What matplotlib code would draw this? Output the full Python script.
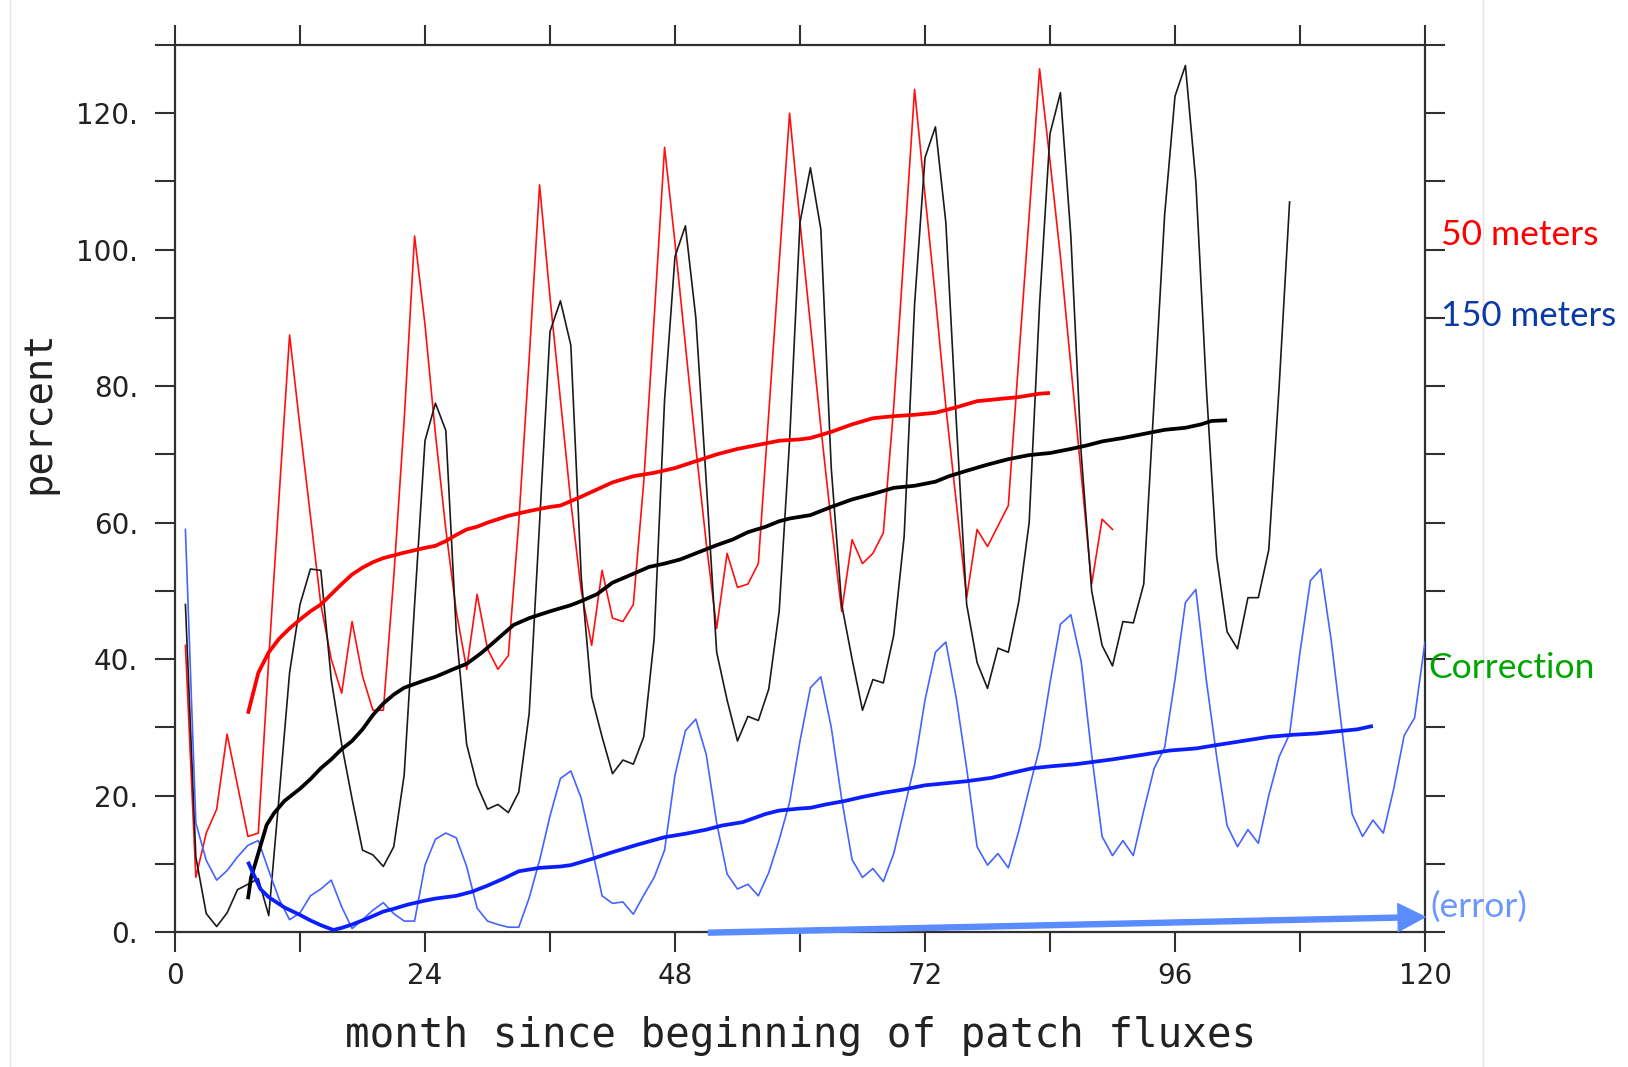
import matplotlib
matplotlib.use("Agg")
import matplotlib.pyplot as plt
from matplotlib import font_manager as fm
from matplotlib.patches import FancyArrowPatch, ArrowStyle
from matplotlib.lines import Line2D
import numpy as np

# ---------------- data ----------------
red_thin = [42, 8, 14.5, 18, 29, 21.5, 14, 14.5, 40, 64,
            87.5, 74, 61, 48, 40, 35, 45.5, 37.5, 32.5, 32.5,
            52, 75, 102, 89, 73, 59, 47, 38.5, 49.5, 41.5,
            38.5, 40.5, 60, 84, 109.5, 93, 78, 63, 50, 42,
            53, 46, 45.5, 48, 66, 90, 115, 101, 86, 71,
            57, 44.5, 55.5, 50.5, 51, 54, 76, 98, 120, 104,
            89, 74, 60, 47, 57.5, 54, 55.5, 58.5, 77, 100,
            123.5, 108, 93, 77, 63, 49, 59, 56.5, 59.5, 62.5,
            84, 105, 126.5, 113, 99, 83, 67, 51, 60.5, 59]

black_thin = [48, 11, 2.7, 0.8, 2.8, 6.2, 7, 7.8, 2.4, 20,
              38, 48, 53.2, 53, 37, 27.5, 19.5, 12, 11.3, 9.6,
              12.5, 23, 48, 72, 77.5, 73.5, 44, 27.5, 21.5, 18,
              18.7, 17.5, 20.5, 32, 60, 88, 92.5, 86, 52, 34.5,
              28.6, 23.2, 25.2, 24.6, 28.6, 43, 78, 99, 103.5, 90,
              66, 41, 34, 28, 31.6, 31, 35.6, 47, 72, 104,
              112, 103, 68, 48, 40, 32.5, 37, 36.5, 43.5, 58,
              92, 113.5, 118, 104, 75, 48, 39.5, 35.7, 41.6, 41,
              48.4, 60, 92, 117, 123, 102, 70, 50, 42, 39,
              45.5, 45.3, 51, 78, 105, 122.5, 127, 110, 80, 55,
              44, 41.5, 49, 49, 56, 80, 107]

blue_thin = [59, 16, 10.5, 7.6, 9, 11, 12.7, 13.4, 9, 4.8,
             1.8, 2.8, 5.3, 6.3, 7.6, 3.7, 0.5, 1.8, 3.2, 4.3,
             2.7, 1.6, 1.6, 9.8, 13.6, 14.5, 13.8, 9.6, 3.5, 1.6,
             1.1, 0.7, 0.7, 5, 10.5, 17, 22.5, 23.6, 19.6, 12.5,
             5.3, 4.2, 4.4, 2.6, 5.4, 8, 12, 23, 29.5, 31.2,
             26, 16, 8.5, 6.3, 7, 5.3, 8.7, 13.5, 19, 28,
             35.8, 37.4, 30, 19.5, 10.6, 8, 9.3, 7.4, 11.5, 18,
             24.5, 34, 41, 42.5, 34.3, 24, 12.5, 9.8, 11.5, 9.4,
             14.8, 21, 27, 36.5, 45.1, 46.5, 39.6, 26, 14, 11.2,
             13.4, 11.2, 17.8, 24, 27, 37, 48.3, 50.2, 37, 25.7,
             15.6, 12.5, 15, 13, 20, 25.7, 29, 41, 51.5, 53.2,
             42.7, 30, 17.3, 14, 16.4, 14.5, 21, 28.8, 31.4, 42.5]

red_months = np.arange(1, len(red_thin) + 1)
black_months = np.arange(1, len(black_thin) + 1)
blue_months = np.arange(1, len(blue_thin) + 1)

red_mean_x = [7, 7.5, 8, 9, 10, 11, 12, 13, 14, 15, 16, 17, 18, 19, 20, 21, 22, 24, 25, 26,
              27, 28, 29, 30, 32, 34, 36, 37, 39, 41, 42, 44, 46, 48, 50, 52, 54, 56, 58, 60,
              61, 63, 65, 67, 69, 71, 73, 75, 77, 79, 81, 83, 84]
red_mean_y = [32, 35, 38, 41, 43, 44.5, 45.8, 47, 48, 49.5, 51, 52.4, 53.4, 54.2, 54.8, 55.2, 55.6, 56.3, 56.6, 57.3,
              58.2, 59, 59.4, 60, 61, 61.7, 62.3, 62.5, 63.8, 65.2, 65.9, 66.8, 67.3, 68, 69, 70, 70.8, 71.4, 72, 72.2,
              72.4, 73.3, 74.4, 75.3, 75.6, 75.8, 76.1, 76.9, 77.8, 78.1, 78.4, 78.9, 79]

black_mean_x = [7, 7.3, 7.7, 8.2, 8.8, 9.5, 10.5, 12, 13, 14, 15, 16, 17, 18, 19, 20, 21, 22, 24, 25,
                27, 28, 29.5, 31, 32.5, 34, 36, 38, 39, 40.5, 42, 44, 45.5, 47, 48.5, 50, 52, 53.5, 55, 56.7,
                58, 59, 61, 63, 65, 67, 69, 71, 73, 74.3, 76, 78, 80, 82, 84, 86, 87.5, 89, 91, 93,
                95, 97, 98.5, 99.5, 101]
black_mean_y = [4.8, 8, 10, 12.6, 15.7, 17.4, 19.2, 21, 22.4, 24, 25.3, 26.8, 28, 29.7, 31.8, 33.5, 34.8, 35.8, 36.9, 37.4,
                38.7, 39.3, 41, 43, 45, 46, 47, 47.9, 48.5, 49.5, 51.2, 52.5, 53.5, 54, 54.6, 55.5, 56.7, 57.5, 58.6, 59.4,
                60.2, 60.6, 61.1, 62.3, 63.4, 64.2, 65.1, 65.4, 66, 66.8, 67.6, 68.5, 69.3, 69.9, 70.2, 70.8, 71.3, 71.9, 72.4, 73,
                73.6, 73.9, 74.4, 74.9, 75]

blue_mean_x = [7, 7.5, 8.2, 9, 10.5, 12, 13, 14, 15.2, 16, 17, 18.5, 20, 21, 22.3, 24, 25, 27, 28.5, 30,
               31.5, 33, 35, 37, 38, 40, 42, 44.4, 47, 49, 51, 52.5, 54.5, 56.7, 58, 60, 61, 62.5, 64.3, 66,
               68, 70, 72, 74, 76, 78.4, 80, 82.3, 84.2, 86.5, 88, 90, 93, 95.5, 98, 100, 102.5, 105, 107.3, 109.6,
               111.5, 113.5, 115]
blue_mean_y = [10.3, 8.6, 6.3, 5.1, 3.6, 2.5, 1.7, 1, 0.3, 0.6, 1.1, 2, 3, 3.4, 4, 4.6, 4.9, 5.3, 5.9, 6.8,
               7.8, 8.9, 9.4, 9.6, 9.8, 10.7, 11.7, 12.8, 13.9, 14.4, 15, 15.6, 16.1, 17.3, 17.8, 18.1, 18.2, 18.7, 19.2, 19.8,
               20.4, 20.9, 21.5, 21.8, 22.1, 22.6, 23.2, 24, 24.3, 24.6, 24.9, 25.3, 26, 26.6, 26.9, 27.4, 28, 28.6, 28.9, 29.1,
               29.4, 29.7, 30.2]

x_ticks = list(range(0, 121, 12))
x_tick_labels = ["0", "", "24", "", "48", "", "72", "", "96", "", "120"]
y_ticks = list(range(0, 131, 10))
y_tick_labels = ["0.", "", "20.", "", "40.", "", "60.", "", "80.", "", "100.", "", "120.", ""]

arrow_start = (51.2, -0.1)
arrow_end = (120, 2.2)

# ---------------- fonts ----------------
names = {f.name for f in fm.fontManager.ttflist}
tick_font = "Liberation Sans Narrow" if "Liberation Sans Narrow" in names else "DejaVu Sans"
tick_size = 23 if tick_font == "Liberation Sans Narrow" else 20
note_font = "Lato" if "Lato" in names else "DejaVu Sans"
title_font = "DejaVu Sans Mono" if "DejaVu Sans Mono" in names else "DejaVu Sans"

# ---------------- figure ----------------
W, H = 1628, 1067
fig = plt.figure(figsize=(W / 100, H / 100), dpi=100)
fig.patch.set_facecolor("white")
ax = fig.add_axes([175 / W, 1 - 932 / H, (1425 - 175) / W, (932 - 45) / H])

frame_col = "#303030"
thin_lw = 1.2
thick_lw = 2.7

ax.plot(red_months, red_thin, color="#ff1010", lw=thin_lw, zorder=3)
ax.plot(black_months, black_thin, color="#1a1a1a", lw=thin_lw, zorder=3)
ax.plot(blue_months, blue_thin, color="#4563ff", lw=thin_lw, zorder=3)

ax.plot(red_mean_x, red_mean_y, color="#ff0000", lw=thick_lw, zorder=4, solid_capstyle="butt")
ax.plot(black_mean_x, black_mean_y, color="#000000", lw=thick_lw, zorder=4, solid_capstyle="butt")
ax.plot(blue_mean_x, blue_mean_y, color="#0a1eff", lw=thick_lw, zorder=4, solid_capstyle="butt")

ax.set_xlim(0, 120)
ax.set_ylim(0, 130)

ax.set_xticks(x_ticks)
ax.set_xticklabels(x_tick_labels, fontfamily=tick_font, fontsize=tick_size, color="#222222")
ax.set_yticks(y_ticks)
ax.set_yticklabels(y_tick_labels, fontfamily=tick_font, fontsize=tick_size, color="#222222")
ax.tick_params(axis="both", which="major", direction="out", length=14.5, width=1.5,
               color=frame_col, top=True, right=True, labeltop=False, labelright=False)
ax.tick_params(axis="x", pad=7)
ax.tick_params(axis="y", pad=12)
for sp in ax.spines.values():
    sp.set_linewidth(1.6)
    sp.set_color(frame_col)

fig.text(801 / W, 1 - 1036 / H, "month since beginning of patch fluxes",
         ha="center", va="center", fontsize=29.5, fontfamily=title_font, color="#222222")
fig.text(38 / W, 1 - 412 / H, "percent", rotation=90,
         ha="center", va="center", fontsize=28, fontfamily=title_font, color="#222222")

# annotations on the right
fig.text(1441 / W, 1 - 245 / H, "50 meters", ha="left", va="baseline",
         fontsize=25.5, fontfamily=note_font, color="#ff0000")
fig.text(1441 / W, 1 - 326 / H, "150 meters", ha="left", va="baseline",
         fontsize=25, fontfamily=note_font, color="#0a3aa6")
fig.text(1428 / W, 1 - 678 / H, "Correction", ha="left", va="baseline",
         fontsize=25.5, fontfamily=note_font, color="#00a600")
fig.text(1430 / W, 1 - 917 / H, "(error)", ha="left", va="baseline",
         fontsize=25.5, fontfamily=note_font, color="#6a98ff")

arrow = FancyArrowPatch(arrow_start, arrow_end,
                        arrowstyle=ArrowStyle.Simple(head_length=0.97, head_width=1.0, tail_width=0.18),
                        mutation_scale=20, color="#5b8cff", shrinkA=0, shrinkB=0,
                        clip_on=False, zorder=6)
ax.add_patch(arrow)

# faint borders of the pasted picture
fig.add_artist(Line2D([10 / W, 10 / W], [0, 1], transform=fig.transFigure, color="#e4e4e4", lw=1))
fig.add_artist(Line2D([1483 / W, 1483 / W], [0, 1], transform=fig.transFigure, color="#e4e4e4", lw=1))

fig.savefig("out.png", dpi=100, facecolor="white")
